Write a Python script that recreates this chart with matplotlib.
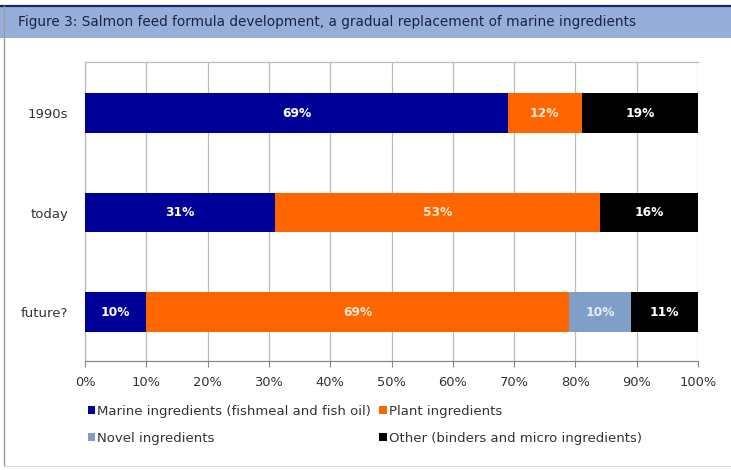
import matplotlib
matplotlib.use("Agg")
import matplotlib.pyplot as plt
from matplotlib.patches import Rectangle
from matplotlib.lines import Line2D

# Feed composition by period (% of formula)
periods = ["1990s", "today", "future?"]
marine = [69, 31, 10]
plant = [12, 53, 69]
novel = [0, 0, 10]
other = [19, 16, 11]

series_names = [
    "Marine ingredients (fishmeal and fish oil)",
    "Plant ingredients",
    "Novel ingredients",
    "Other (binders and micro ingredients)",
]
series_values = [marine, plant, novel, other]
series_colors = ["#000099", "#FF6600", "#7F9FC8", "#000000"]
label_colors = ["white", "#FFE9D6", "#E8EEF6", "white"]

x_ticks = list(range(0, 101, 10))
x_tick_labels = [f"{t}%" for t in x_ticks]

title = "Figure 3: Salmon feed formula development, a gradual replacement of marine ingredients"

W, H = 731, 470
fig = plt.figure(figsize=(W / 100, H / 100), dpi=100)
fig.patch.set_facecolor("white")

# Title band and outer frame
fig.add_artist(Rectangle((0, 1 - 38 / H), 1, 32 / H, transform=fig.transFigure,
                         facecolor="#96AEDA", edgecolor="none", zorder=0))
fig.add_artist(Line2D([0, 1], [1 - 5.5 / H, 1 - 5.5 / H], transform=fig.transFigure,
                      color="#1A1F6E", lw=1.6))
fig.add_artist(Line2D([3.5 / W, 3.5 / W], [4 / H, 1 - 6 / H], transform=fig.transFigure,
                      color="#9A9A9A", lw=1.0))
fig.add_artist(Line2D([3.5 / W, 1], [4 / H, 4 / H], transform=fig.transFigure,
                      color="#DDDDDD", lw=0.8))
fig.text(18 / W, 1 - 22 / H, title, fontsize=9.8, color="#1C2340",
         va="center", ha="left", family="DejaVu Sans")

ax = fig.add_axes([85 / W, 1 - 361 / H, (698 - 85) / W, (361 - 62) / H])
ypos = list(range(len(periods)))[::-1]

lefts = [0] * len(periods)
handles = []
for name, vals, col, lcol in zip(series_names, series_values, series_colors, label_colors):
    bars = ax.barh(ypos, vals, left=lefts, height=0.40, color=col, label=name, zorder=3)
    handles.append(bars)
    for y, v, l in zip(ypos, vals, lefts):
        if v > 0:
            ax.text(l + v / 2, y, f"{v}%", ha="center", va="center", color=lcol,
                    fontsize=8.8, fontweight="bold", zorder=4)
    lefts = [a + b for a, b in zip(lefts, vals)]

ax.set_xlim(0, 100)
ax.set_ylim(-0.492, 2.513)
ax.set_yticks(ypos)
ax.set_yticklabels(periods, fontsize=9.5, color="#333333")
ax.set_xticks(x_ticks)
ax.set_xticklabels(x_tick_labels, fontsize=9.4, color="#333333")
ax.tick_params(axis="y", length=0, pad=12)
ax.tick_params(axis="x", length=4, color="#888888", pad=7, direction="out")
ax.grid(axis="x", color="#BBBBBB", lw=0.9, zorder=0)
for side in ["left", "top"]:
    ax.spines[side].set_color("#BBBBBB")
    ax.spines[side].set_linewidth(0.9)
ax.spines["right"].set_visible(False)
ax.spines["bottom"].set_color("#888888")
ax.spines["bottom"].set_linewidth(0.9)

order = [0, 2, 1, 3]
leg = fig.legend([handles[i] for i in order], [series_names[i] for i in order],
                 ncol=2, loc="upper left", bbox_to_anchor=(77 / W, 1 - 394 / H),
                 frameon=False, fontsize=9.5, handlelength=0.55, handleheight=0.55,
                 handletextpad=0.2, columnspacing=0.6, labelspacing=1.08,
                 borderpad=0.3)
for t in leg.get_texts():
    t.set_color("#333333")

fig.savefig("out.png", dpi=100)
